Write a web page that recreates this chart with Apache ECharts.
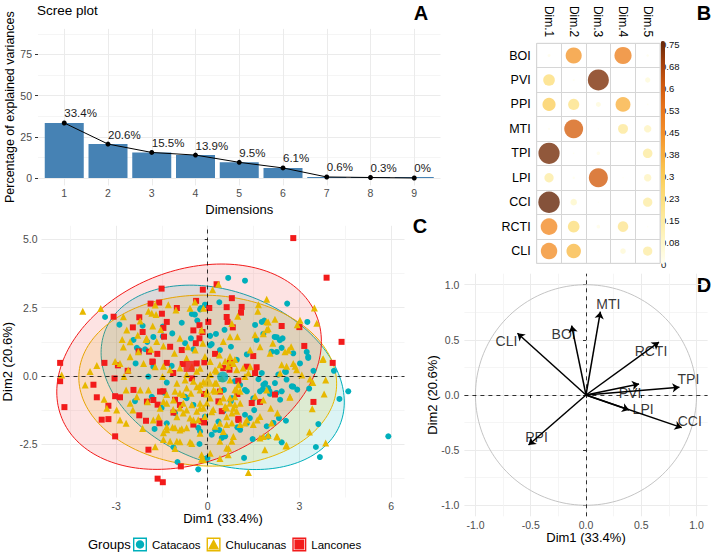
<!DOCTYPE html>
<html><head><meta charset="utf-8">
<script src="https://cdn.jsdelivr.net/npm/echarts@6/dist/echarts.min.js"></script>
<style>html,body{margin:0;padding:0;background:#fff}#c{width:714px;height:554px}</style>
</head><body><div id="c"></div>
<script>
// ---------- Panel A : scree plot ----------
const screeDims = [1, 2, 3, 4, 5, 6, 7, 8, 9];
const screeValues = [33.4, 20.6, 15.5, 13.9, 9.5, 6.1, 0.6, 0.3, 0.0];
const screeLabels = ['33.4%', '20.6%', '15.5%', '13.9%', '9.5%', '6.1%', '0.6%', '0.3%', '0%'];
const screeYTicks = [0, 25, 50, 75];
const screeYMinor = [12.5, 37.5, 62.5, 87.5];

// ---------- Panel B : cos2 corrplot ----------
const corrCols = ['Dim.1', 'Dim.2', 'Dim.3', 'Dim.4', 'Dim.5'];
const corrRows = ['BOI', 'PVI', 'PPI', 'MTI', 'TPI', 'LPI', 'CCI', 'RCTI', 'CLI'];
const cosBOI  = [0.015, 0.42, 0.000, 0.48, 0.010];
const cosPVI  = [0.22, 0.006, 0.72, 0.000, 0.045];
const cosPPI  = [0.28, 0.20, 0.040, 0.36, 0.004];
const cosMTI  = [0.008, 0.58, 0.002, 0.16, 0.09];
const cosTPI  = [0.73, 0.004, 0.020, 0.000, 0.15];
const cosLPI  = [0.14, 0.010, 0.59, 0.003, 0.09];
const cosCCI  = [0.75, 0.07, 0.002, 0.000, 0.14];
const cosRCTI = [0.45, 0.22, 0.020, 0.18, 0.003];
const cosCLI  = [0.44, 0.34, 0.002, 0.05, 0.14];
const colorbarTicks = ['0', '0.08', '0.15', '0.23', '0.3', '0.38', '0.45', '0.53', '0.6', '0.68', '0.75'];

// ---------- Panel C : individuals ----------
const catacaos = [[5.91,-2.21],[4.60,-0.56],[4.31,-0.84],[4.13,0.19],[3.62,-1.76],[3.54,-2.60],[3.67,-2.97],[3.26,1.98],[3.24,0.88],[3.29,0.70],[3.46,0.19],[3.29,0.66],[3.32,-0.46],[2.93,-0.50],[2.75,-0.38],[2.56,0.15],[2.58,-0.13],[2.37,-0.87],[2.60,2.65],[2.56,-1.64],[2.42,-2.43],[1.98,-2.22],[1.93,-1.84],[2.15,-1.72],[2.33,-1.54],[1.47,-2.31],[1.19,-3.00],[1.22,3.49],[0.67,3.59],[0.38,2.70],[-0.22,2.49],[-0.09,2.61],[-0.42,2.25],[-0.25,2.44],[-0.52,2.27],[-2.89,1.88],[-3.36,2.16],[-2.13,1.84],[-1.47,1.81],[-0.85,1.95],[-0.55,1.38],[-0.74,1.20],[-1.16,1.56],[-1.78,1.43],[-1.98,1.25],[-2.32,1.03],[-2.24,0.95],[-2.05,0.98],[-1.47,1.45],[-1.18,0.37],[-1.34,-0.24],[-1.42,-0.61],[-1.83,-0.76],[-2.38,-0.92],[-1.74,-1.94],[-1.34,-1.73],[-1.12,-2.61],[-0.27,-2.49],[-0.31,-3.42],[-0.14,-3.03],[-0.99,-3.15],[-0.01,-3.00],[0.35,-1.67],[0.38,-1.98],[0.46,-2.27],[0.57,-2.21],[0.13,-2.15],[0.24,-1.97],[0.97,-1.88],[1.06,-1.97],[1.28,-1.73],[1.52,-1.25],[1.22,-1.42],[1.38,-1.54],[1.80,-0.49],[2.02,-0.55],[1.88,-0.27],[1.71,-0.56],[2.04,-0.66],[2.25,-0.62],[2.42,-0.56],[1.82,-0.32],[1.98,-0.44],[2.20,-0.26],[2.53,0.16],[2.80,-0.39],[2.26,1.42],[2.45,1.38],[1.82,1.54],[1.60,1.32],[1.55,1.87],[1.85,2.03],[1.77,1.98],[2.19,1.43],[2.36,1.31],[2.26,0.88],[2.42,1.03],[1.28,0.79],[0.95,0.59],[0.76,1.07],[0.40,0.95],[0.13,1.17],[0.27,1.54],[0.55,1.69],[0.08,1.12],[1.06,-0.33],[0.76,-0.92],[0.53,-0.51],[1.22,-0.51],[1.49,-0.82],[-0.09,-1.49],[-0.47,-1.06],[-0.74,-0.76],[-1.94,-0.02],[-1.78,0.34],[-2.36,0.46],[-2.43,1.32],[-0.47,0.98],[-0.34,2.03],[0.08,1.47],[1.66,-0.12],[2.80,0.83],[3.02,0.46],[2.09,0.89],[-1.51,-1.17],[-1.07,-1.36],[-0.69,-0.81],[0.89,-0.19],[1.28,-0.56],[0.51,-1.29],[0.79,-0.81],[1.77,0.11],[2.31,0.05],[-0.31,-1.90],[-0.25,-2.03]];
const chulucanas = [[-4.09,2.37],[-3.50,2.47],[-4.78,0.04],[-3.85,0.16],[-3.63,0.38],[-4.01,-0.33],[-3.39,-0.85],[-3.30,-1.18],[-2.87,-1.61],[-2.67,-1.73],[-2.98,-1.25],[-3.03,0.53],[-2.74,-0.02],[-2.67,-0.51],[-2.54,-1.00],[-2.13,-1.92],[-1.72,-2.59],[-1.45,-2.08],[-1.15,-1.88],[-0.91,-1.98],[-0.52,-2.47],[-0.20,-3.05],[0.40,-3.02],[0.68,-2.65],[1.33,-3.53],[1.87,-2.70],[2.26,-2.22],[2.56,-2.56],[1.82,-2.22],[3.33,-2.05],[3.86,-2.45],[3.42,-1.20],[3.81,-0.66],[3.86,-0.15],[3.44,-0.24],[3.76,0.60],[3.57,1.93],[3.49,2.49],[3.02,2.04],[2.93,1.88],[1.93,2.81],[1.66,2.61],[1.64,2.37],[0.98,2.19],[0.35,3.36],[0.16,3.16],[-0.14,2.48],[-1.72,2.60],[-1.29,2.61],[-1.04,2.42],[-0.58,2.48],[-0.42,2.71],[-1.83,2.30],[-1.94,2.37],[-1.69,2.25],[-2.21,2.01],[-1.80,1.83],[-2.76,2.17],[-2.65,1.68],[-2.00,1.38],[-1.67,1.26],[-0.91,1.38],[-0.65,1.07],[-1.09,0.83],[-1.45,1.10],[-2.27,0.89],[-2.10,0.46],[-1.72,0.34],[-1.48,-0.02],[-1.94,-0.51],[-2.21,-0.51],[-1.97,-0.94],[-1.56,-1.18],[-1.34,-1.00],[-0.91,-0.63],[-0.74,-0.15],[-1.01,-0.27],[-0.25,0.28],[-0.09,0.71],[0.08,0.53],[0.24,0.22],[-0.14,-0.21],[0.19,-0.51],[0.40,-0.94],[0.57,-1.12],[0.84,-1.18],[0.73,-1.00],[1.06,-1.00],[0.89,-0.76],[1.22,-0.02],[1.39,0.34],[0.84,0.46],[0.51,1.26],[0.97,1.44],[0.73,1.44],[1.39,0.95],[1.71,1.07],[2.04,0.83],[2.13,1.20],[2.53,0.89],[2.73,1.07],[1.93,1.69],[1.93,1.99],[3.08,0.04],[2.80,0.46],[2.37,0.10],[1.93,-0.51],[1.82,-0.88],[2.06,-1.18],[2.69,-0.76],[1.62,-1.61],[1.28,-1.61],[0.62,-1.49],[0.40,-1.73],[-0.47,-1.61],[-0.69,-1.25],[-0.25,-1.00],[-0.03,-0.66],[-0.55,-0.63],[-0.80,-1.00],[-1.78,-1.61],[-2.45,-1.25],[-2.32,-0.76],[-2.60,0.22],[-2.87,0.46],[-1.34,-1.86],[-1.61,-1.49],[-0.91,-2.41],[-0.25,-2.10],[0.08,-2.83],[0.84,-2.22],[-0.52,0.34],[-0.69,0.65],[-0.41,0.95],[-0.16,1.20],[-0.20,1.68],[0.38,0.77],[0.73,0.71],[0.46,-0.09],[0.73,-0.15],[0.95,-0.51],[0.29,-0.27],[-0.25,-0.51],[-0.36,-0.39],[0.13,-1.31],[-0.25,-1.18],[-1.12,-0.88],[-1.01,-1.49],[-2.80,1.34],[-2.76,1.06],[-2.54,1.25],[-2.29,1.49],[-2.02,1.34],[-2.54,0.70],[-1.86,0.98],[-1.54,1.70],[0.79,1.92],[1.55,1.51],[1.82,1.55],[1.98,1.98],[2.20,2.08],[1.98,1.73],[2.64,0.94],[3.78,0.63],[2.42,0.41],[2.58,0.36],[2.86,0.36],[2.91,0.23],[3.35,-0.11],[2.69,-0.78],[2.58,-2.54],[-0.20,-2.88],[-0.14,-3.07],[0.67,-2.88],[1.71,-2.27],[2.28,-2.23],[1.98,-2.17],[0.51,-2.03],[0.62,-2.64],[0.79,-2.39],[0.40,-2.39],[-0.58,-2.42],[-1.07,-2.66],[-1.01,-2.39],[-1.45,-2.33],[-1.23,-2.39],[-1.34,-1.97],[-1.07,-1.90],[-0.85,-1.93],[-0.69,-1.90],[-0.58,-1.54],[-0.31,-1.60],[-0.09,-1.48],[0.24,-1.84],[0.62,-1.78],[0.79,-1.72],[1.06,-1.78],[1.22,-1.72],[1.49,-1.78],[1.71,-1.48],[2.09,-1.72],[2.28,-1.36],[1.55,-0.74],[0.67,0.36],[0.95,0.23],[1.16,0.29],[1.33,0.11],[1.00,-0.32],[0.89,-0.50],[1.06,-0.56],[0.73,-0.81],[0.51,-0.81],[0.89,-1.05],[0.62,-1.17],[0.79,-1.36],[0.95,-1.29],[0.08,-0.81],[-0.03,-0.99],[0.18,-1.23],[-0.14,-1.17],[-0.36,-1.29],[-0.52,-1.05],[-0.80,-1.36],[-0.91,-1.17],[-1.13,-1.23],[-1.45,-0.93],[-1.34,-0.68],[-1.07,-0.56],[-0.80,-0.68],[-0.69,-0.44],[-0.47,-0.19],[-0.25,-0.32],[-0.36,0.17],[-0.69,0.05],[-0.91,0.29],[-1.23,0.23],[-1.45,0.36],[-0.03,-0.56],[0.24,-0.56],[0.40,-0.50],[0.24,-0.26],[0.08,0.05],[0.29,0.17],[0.40,0.41],[0.57,0.54],[0.73,0.54],[0.89,0.60]];
const lancones = [[2.80,5.05],[3.89,3.60],[4.38,1.25],[4.09,0.48],[3.46,-0.95],[3.16,1.10],[3.00,1.79],[2.42,1.83],[0.79,2.85],[1.11,2.53],[0.62,2.52],[1.09,2.32],[0.62,2.16],[0.82,1.78],[0.65,1.98],[0.29,3.36],[-0.16,3.16],[0.05,2.49],[0.02,1.98],[-0.27,1.86],[-0.17,1.61],[-0.47,1.67],[-0.38,2.75],[-1.51,3.20],[-1.59,2.69],[-1.87,2.65],[-1.01,2.49],[-1.50,2.28],[-1.34,1.98],[-1.45,1.76],[-2.24,2.15],[-2.45,1.78],[-2.13,1.61],[-3.08,2.17],[-1.43,1.44],[-1.23,1.07],[-1.65,0.81],[-1.92,0.89],[-2.26,0.90],[-1.81,0.53],[-0.85,0.95],[-0.82,0.44],[-0.36,0.46],[-0.39,1.20],[-0.27,1.38],[-0.11,0.50],[0.24,0.81],[0.73,0.48],[0.51,0.29],[0.71,0.23],[1.49,0.73],[1.28,0.34],[1.55,0.11],[1.60,0.32],[1.00,-0.17],[0.97,-0.66],[1.44,-0.99],[1.71,-0.95],[2.20,-0.68],[1.01,-1.61],[1.00,-1.57],[0.46,-1.29],[0.35,-0.93],[0.40,-0.57],[-0.12,-1.70],[-0.20,-1.66],[-0.47,-1.78],[-0.91,-1.06],[-1.12,-1.34],[-1.58,-1.73],[-2.02,-1.64],[-2.24,-1.44],[-1.56,-0.57],[-1.78,-0.88],[-1.99,-0.94],[-2.43,-0.51],[-2.62,0.19],[-2.94,0.39],[-3.05,-0.09],[-3.03,-0.74],[-2.87,-0.78],[-3.25,-1.09],[-3.38,0.48],[-3.74,-0.32],[-3.63,-0.78],[-3.47,-1.60],[-3.25,-1.58],[-3.03,-2.21],[-1.94,-2.70],[-0.88,-3.31],[-1.64,-3.76],[-1.47,-3.89],[-4.83,0.48],[-4.83,-0.19],[-4.69,-1.14],[-0.12,-0.66],[-0.52,-0.09],[-1.34,0.48],[-1.13,0.11],[-1.45,-0.56],[-1.07,-0.87],[-1.64,-1.05],[-1.80,0.51]];
const meanCatacaos = [0.49, -0.04];
const meanChulucanas = [0.01, -0.17];
const meanLancones = [-0.61, 0.35];
// concentration ellipses: [centre x, centre y, var x, var y, cov xy]
const ellipseCatacaos = [0.49, -0.05, 15.84, 11.40, -3.6];
const ellipseChulucanas = [0.00, -0.17, 17.80, 9.80, -0.5];
const ellipseLancones = [-0.61, 0.34, 18.75, 14.14, 4.0];
const cXTicks = [-3, 0, 3, 6];
const cXMinor = [-4.5, -1.5, 1.5, 4.5];
const cYTicks = [-2.5, 0, 2.5, 5];
const cYMinor = [-3.75, -1.25, 1.25, 3.75];

// ---------- Panel D : variables ----------
const varNames = ['CLI', 'BOI', 'MTI', 'RCTI', 'TPI', 'PVI', 'LPI', 'CCI', 'PPI'];
const varDim1 = [-0.62, -0.13, 0.13, 0.66, 0.845, 0.48, 0.39, 0.866, -0.52];
const varDim2 = [0.56, 0.63, 0.755, 0.48, 0.07, 0.10, -0.136, -0.296, -0.453];
const unitCircle = [0, 0, 1, 1, 0];
const dTicks = [-1, -0.5, 0, 0.5, 1];
const dMinor = [-0.75, -0.25, 0.25, 0.75];

// ---------- styles ----------
const FONT = '"Liberation Sans", Arial, Helvetica, sans-serif';
const TICK = '#4D4D4D', MAJ = '#EBEBEB', MIN = '#F3F3F3';
const colTeal = '#00AFBB', colGold = '#E7B800', colRed = '#F21B1B';
const labelOffsets = [[-11, 8], [-8, 8], [8, -8], [-8, 9], [9, -8], [-9, 9], [14, -1], [8, -7], [8, -8]];

function mainAxis(gi, min, max, ticks, o) {
  return {
    type: 'value', gridIndex: gi, min: min, max: max,
    name: o.name || '', nameLocation: 'middle', nameGap: o.nameGap || 0, nameMoveOverlap: false,
    nameTextStyle: { color: '#000', fontSize: o.nameSize || 13, fontFamily: FONT },
    axisLine: { show: false },
    axisTick: { show: o.ticks !== false, length: 3, customValues: ticks, lineStyle: { color: '#333', width: 1 } },
    axisLabel: { show: true, customValues: ticks, color: TICK, fontSize: 10.5, fontFamily: FONT, margin: o.margin, formatter: o.fmt },
    splitLine: { show: true, lineStyle: { color: MAJ, width: 1 } },
    minorTick: { show: false }, minorSplitLine: { show: false }
  };
}
function minorAxis(gi, min, max, ticks, pos) {
  return {
    type: 'value', gridIndex: gi, min: min, max: max, position: pos,
    axisLine: { show: false }, axisTick: { show: false, customValues: ticks },
    axisLabel: { show: false, customValues: ticks },
    splitLine: { show: true, lineStyle: { color: MIN, width: 0.8 } }
  };
}
function ellipseSeries(name, params, xi, yi, stroke, fill, lw) {
  return {
    type: 'custom', name: name, xAxisIndex: xi, yAxisIndex: yi, data: [params], silent: true, z: 1,
    encode: { x: 0, y: 1 },
    renderItem: function (p, api) {
      const cx = api.value(0), cy = api.value(1), sxx = api.value(2), syy = api.value(3), sxy = api.value(4);
      const l11 = Math.sqrt(sxx), l21 = sxy / l11, l22 = Math.sqrt(syy - l21 * l21);
      const pts = [];
      for (let k = 0; k < 180; k++) {
        const t = 2 * Math.PI * k / 180;
        pts.push(api.coord([cx + l11 * Math.cos(t), cy + l21 * Math.cos(t) + l22 * Math.sin(t)]));
      }
      return { type: 'polygon', shape: { points: pts }, style: { fill: fill, stroke: stroke, lineWidth: lw } };
    }
  };
}
const fmt1 = v => v.toFixed(1);
const fmt0 = v => String(v);

const corrByRow = [cosBOI, cosPVI, cosPPI, cosMTI, cosTPI, cosLPI, cosCCI, cosRCTI, cosCLI];
const corrData = [];
corrByRow.forEach((row, ri) => row.forEach((v, ci) => corrData.push([ci, ri, v])));

const xAxes = [
  // 0: A
  mainAxis(0, 0.4, 9.6, screeDims, { ticks: false, margin: 2, fmt: fmt0, name: 'Dimensions', nameGap: 18 }),
  // 1: C main
  mainAxis(2, -5.44, 6.44, cXTicks, { margin: 3, fmt: fmt0, name: 'Dim1 (33.4%)', nameGap: 14 }),
  // 2: C minor
  minorAxis(2, -5.44, 6.44, cXMinor, 'top'),
  // 3: D main
  mainAxis(3, -1.1, 1.1, dTicks, { margin: 3, fmt: fmt1, name: 'Dim1 (33.4%)', nameGap: 14.5 }),
  // 4: D minor
  minorAxis(3, -1.1, 1.1, dMinor, 'top'),
  // 5: B categories
  {
    type: 'category', gridIndex: 1, data: corrCols, position: 'top', boundaryGap: true,
    axisLine: { show: false }, axisTick: { show: false },
    axisLabel: { rotate: 90, interval: 0, color: '#000', fontSize: 12, fontFamily: FONT, margin: 6 },
    splitLine: { show: true, interval: 0, lineStyle: { color: '#D6D6D6', width: 1 } }
  },
  // 6: colour bar
  { type: 'value', gridIndex: 4, show: false, min: 0, max: 1 }
];
const yAxes = [
  // 0: A main
  mainAxis(0, -4.5, 90.5, screeYTicks, { margin: 6, fmt: fmt0, name: 'Percentage of explained variances', nameGap: 22, nameSize: 12.5 }),
  // 1: A minor
  minorAxis(0, -4.5, 90.5, screeYMinor, 'right'),
  // 2: C main
  mainAxis(2, -4.45, 5.5, cYTicks, { margin: 4, fmt: fmt1, name: 'Dim2 (20.6%)', nameGap: 27.5 }),
  // 3: C minor
  minorAxis(2, -4.45, 5.5, cYMinor, 'right'),
  // 4: D main
  mainAxis(3, -1.1, 1.1, dTicks, { margin: 5, fmt: fmt1, name: 'Dim2 (20.6%)', nameGap: 25 }),
  // 5: D minor
  minorAxis(3, -1.1, 1.1, dMinor, 'right'),
  // 6: B rows
  {
    type: 'category', gridIndex: 1, data: corrRows, inverse: true, boundaryGap: true,
    axisLine: { show: false }, axisTick: { show: false },
    axisLabel: { interval: 0, color: '#000', fontSize: 12.5, fontFamily: FONT, margin: 6 },
    splitLine: { show: true, interval: 0, lineStyle: { color: '#D6D6D6', width: 1 } }
  },
  // 7: colour bar ticks
  {
    type: 'category', gridIndex: 4, data: colorbarTicks, boundaryGap: false, position: 'right',
    axisLine: { show: false }, axisTick: { show: false }, splitLine: { show: false },
    axisLabel: { interval: 0, color: '#111', fontSize: 9.5, fontFamily: FONT, margin: -4 }
  }
];

const zeroLines = {
  silent: true, symbol: 'none', label: { show: false },
  lineStyle: { type: [4, 4], color: '#000', width: 0.8 },
  data: [{ xAxis: 0 }, { yAxis: 0 }]
};

const series = [
  // 0: corrplot circles (coloured by visualMap)
  {
    type: 'scatter', name: 'cos2', xAxisIndex: 5, yAxisIndex: 6, data: corrData, silent: true, z: 3,
    symbol: 'circle', symbolSize: v => 21.5 * Math.sqrt(v[2] / 0.75)
  },
  // A: bars + line
  {
    type: 'bar', name: 'scree', xAxisIndex: 0, yAxisIndex: 0, silent: true,
    data: screeDims.map((d, i) => [d, screeValues[i]]), barWidth: 39, barMinHeight: 1,
    itemStyle: { color: '#4682B4' }
  },
  {
    type: 'line', name: 'screeLine', xAxisIndex: 0, yAxisIndex: 0, silent: true, z: 4,
    data: screeDims.map((d, i) => [d, screeValues[i]]),
    symbol: 'circle', symbolSize: 5, itemStyle: { color: '#000' }, lineStyle: { color: '#000', width: 1 },
    label: {
      show: true, position: 'top', align: 'left', distance: 1, color: '#1A1A1A', fontSize: 11.5, fontFamily: FONT,
      formatter: p => screeLabels[p.dataIndex]
    }
  },
  // C: ellipses
  ellipseSeries('ellC', ellipseCatacaos, 1, 2, colTeal, 'rgba(0,175,187,0.14)', 1),
  ellipseSeries('ellH', ellipseChulucanas, 1, 2, colGold, 'rgba(231,184,0,0.14)', 1),
  ellipseSeries('ellL', ellipseLancones, 1, 2, colRed, 'rgba(242,27,27,0.12)', 1),
  // C: zero lines
  { type: 'scatter', name: 'zeroC', xAxisIndex: 1, yAxisIndex: 2, data: [[0, 0]], symbolSize: 0, silent: true, z: 2, markLine: zeroLines },
  // C: points
  { type: 'scatter', name: 'Catacaos', xAxisIndex: 1, yAxisIndex: 2, data: catacaos, symbol: 'circle', symbolSize: 6, itemStyle: { color: colTeal, opacity: 1 }, z: 3, silent: true },
  { type: 'scatter', name: 'Lancones', xAxisIndex: 1, yAxisIndex: 2, data: lancones, symbol: 'rect', symbolSize: 6, itemStyle: { color: colRed, opacity: 1 }, z: 3, silent: true },
  { type: 'scatter', name: 'Chulucanas', xAxisIndex: 1, yAxisIndex: 2, data: chulucanas, symbol: 'triangle', symbolSize: 7, itemStyle: { color: colGold, opacity: 1 }, z: 3, silent: true },
  // C: group means
  { type: 'scatter', name: 'Catacaos', xAxisIndex: 1, yAxisIndex: 2, data: [meanCatacaos], symbol: 'circle', symbolSize: 11, itemStyle: { color: colTeal }, z: 5, silent: true },
  { type: 'scatter', name: 'Chulucanas', xAxisIndex: 1, yAxisIndex: 2, data: [meanChulucanas], symbol: 'triangle', symbolSize: 12, itemStyle: { color: colGold }, z: 5, silent: true },
  { type: 'scatter', name: 'Lancones', xAxisIndex: 1, yAxisIndex: 2, data: [meanLancones], symbol: 'rect', symbolSize: 11, itemStyle: { color: colRed }, z: 5, silent: true },
  // D: circle
  ellipseSeries('circle', unitCircle, 3, 4, '#BDBDBD', 'none', 0.9),
  // D: arrows
  {
    type: 'lines', name: 'arrows', coordinateSystem: 'cartesian2d', xAxisIndex: 3, yAxisIndex: 4, silent: true, z: 4,
    data: varNames.map((n, i) => ({ coords: [[0, 0], [varDim1[i], varDim2[i]]] })),
    symbol: ['none', 'arrow'], symbolSize: [0, 7],
    lineStyle: { color: '#000', width: 1.5, opacity: 1, curveness: 0 }
  },
  // D: labels + zero lines
  {
    type: 'scatter', name: 'varLabels', xAxisIndex: 3, yAxisIndex: 4, silent: true, z: 5, symbolSize: 0,
    data: varNames.map((n, i) => ({ name: n, value: [varDim1[i], varDim2[i]], label: { offset: labelOffsets[i] } })),
    label: { show: true, position: 'inside', formatter: '{b}', color: '#000', fontSize: 14, fontFamily: FONT },
    markLine: zeroLines
  }
];

function keyIcon(inner) {
  return 'path://M0 0H20V20H0Z M2 2V18H18V2Z ' + inner;
}
const iconCircle = keyIcon('M16 10C16 13.3 13.3 16 10 16C6.7 16 4 13.3 4 10C4 6.7 6.7 4 10 4C13.3 4 16 6.7 16 10Z');
const iconTri = keyIcon('M10 2L18 17H2Z');
const iconSq = keyIcon('M3 3H17V17H3Z');

const option = {
  animation: false,
  backgroundColor: '#fff',
  textStyle: { fontFamily: FONT },
  grid: [
    { left: 38, top: 28.9, width: 402.5, height: 156.5, outerBoundsMode: 'none' },
    { left: 536.7, top: 43.3, width: 123.3, height: 220, show: true, borderColor: '#D6D6D6', borderWidth: 1, outerBoundsMode: 'none' },
    { left: 41.5, top: 225.8, width: 363, height: 271.7, outerBoundsMode: 'none' },
    { left: 464.4, top: 273.7, width: 243.2, height: 242.6, outerBoundsMode: 'none' },
    { left: 660.7, top: 44, width: 4.3, height: 220, outerBoundsMode: 'none' }
  ],
  xAxis: xAxes,
  yAxis: yAxes,
  visualMap: {
    type: 'continuous', seriesIndex: 0, dimension: 2, min: 0, max: 0.75,
    orient: 'vertical', left: 660.7, top: 41, itemWidth: 4.3, itemHeight: 223, padding: 0,
    calculable: false, realtime: false, hoverLink: false, text: null, showLabel: false,
    inRange: { color: ['#FFFFF2', '#FEF6C8', '#FDEBA0', '#FCDD7A', '#FBCB55', '#F8AC3C', '#F28C28', '#E8751B', '#D05A0E', '#A3400B', '#662709'] },
    borderColor: '#BBBBBB', borderWidth: 0
  },
  legend: {
    left: 133, top: 537.5, itemWidth: 14, itemHeight: 14, itemGap: 6, padding: 0, selectedMode: false,
    textStyle: { fontSize: 11.5, color: '#000', fontFamily: FONT },
    data: [{ name: 'Catacaos', icon: iconCircle }, { name: 'Chulucanas', icon: iconTri }, { name: 'Lancones', icon: iconSq }]
  },
  graphic: [
    { type: 'text', x: 37, y: 10, silent: true, style: { text: 'Scree plot', fill: '#000', font: '13.5px ' + FONT, textVerticalAlign: 'middle' } },
    { type: 'text', x: 421, y: 13, silent: true, style: { text: 'A', fill: '#000', font: 'bold 20px ' + FONT, textAlign: 'center', textVerticalAlign: 'middle' } },
    { type: 'text', x: 704, y: 13, silent: true, style: { text: 'B', fill: '#000', font: 'bold 20px ' + FONT, textAlign: 'center', textVerticalAlign: 'middle' } },
    { type: 'text', x: 420, y: 226, silent: true, style: { text: 'C', fill: '#000', font: 'bold 20px ' + FONT, textAlign: 'center', textVerticalAlign: 'middle' } },
    { type: 'text', x: 704, y: 285, silent: true, style: { text: 'D', fill: '#000', font: 'bold 20px ' + FONT, textAlign: 'center', textVerticalAlign: 'middle' } },
    { type: 'text', x: 88, y: 544.5, silent: true, style: { text: 'Groups', fill: '#000', font: '13px ' + FONT, textVerticalAlign: 'middle' } }
  ],
  series: series
};
const chart = echarts.init(document.getElementById('c'), null, { renderer: 'svg', width: 714, height: 554 });
chart.setOption(option);
</script>
</body></html>
